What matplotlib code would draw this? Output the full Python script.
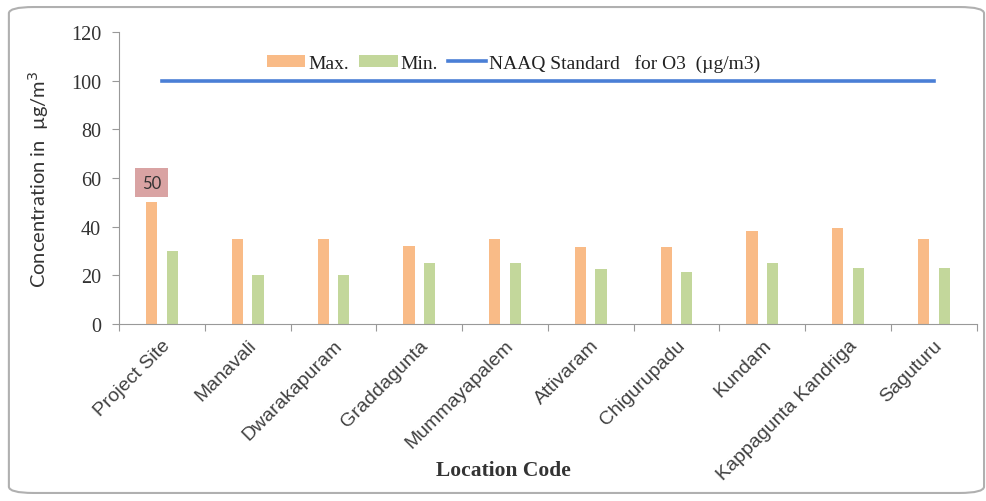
import numpy as np
import matplotlib.pyplot as plt
from matplotlib.patches import FancyBboxPatch

# O3 concentration per monitoring location
locations = ['Project Site', 'Manavali', 'Dwarakapuram', 'Graddagunta', 'Mummayapalem',
             'Attivaram', 'Chigurupadu', 'Kundam', 'Kappagunta Kandriga', 'Saguturu']
max_vals = [50, 35, 35, 32, 35, 31.5, 31.5, 38, 39.5, 35]
min_vals = [30, 20, 20, 25, 25, 22.5, 21.5, 25, 23, 23]
naaq_std = [100] * len(locations)
y_ticks = [0, 20, 40, 60, 80, 100, 120]

ORANGE = '#f9bb87'
GREEN = '#c3d79b'
BLUE = '#4a7fd6'

fig = plt.figure(figsize=(9.87, 5.02), dpi=100)
ax = fig.add_axes([0.1206, 0.3526, 0.869, 0.582])

# rounded frame around the whole chart
frame = FancyBboxPatch((0.009, 0.016), 0.988, 0.968, boxstyle='round,pad=0,rounding_size=0.025',
                       transform=fig.transFigure, fill=False, edgecolor='#b0b0b0', linewidth=1.5,
                       mutation_aspect=502 / 987)
fig.patches.append(frame)

x = np.arange(len(locations))
width = 0.13
offset = 0.12

b_max = ax.bar(x - offset, max_vals, width, color=ORANGE, label='Max.')
b_min = ax.bar(x + offset, min_vals, width, color=GREEN, label='Min.')
l_std, = ax.plot(x, naaq_std, color=BLUE, linewidth=2.6, label='NAAQ Standard   for O3  (µg/m3)')

# highlight the project-site maximum
ax.annotate(f'{max_vals[0]}', xy=(x[0] - offset, max_vals[0]), xytext=(0, 14),
            textcoords='offset points', ha='center', va='center', fontsize=12,
            family='Lato', color='#333333',
            bbox=dict(boxstyle='square,pad=0.4', facecolor='#d9a3a3', edgecolor='none'))

ax.set_xlim(-0.5, len(locations) - 0.5)
ax.set_ylim(0, 120)
ax.set_yticks(y_ticks)
ax.set_yticklabels([str(v) for v in y_ticks], family='Liberation Serif', fontsize=14.5, color='#333333')

ax.set_xticks(np.arange(len(locations) + 1) - 0.5, minor=False)
ax.set_xticklabels([])
ax.set_xticks(x, minor=True)
ax.set_xticklabels(locations, minor=True, rotation=45, ha='right', va='top',
                   rotation_mode='anchor', family='Liberation Sans', fontsize=14, color='#404040')
ax.tick_params(axis='x', which='minor', length=0, pad=9)
ax.tick_params(axis='x', which='major', length=5, color='#999999', direction='out')
ax.tick_params(axis='y', length=5, color='#999999', direction='out', pad=8)

for side in ['top', 'right']:
    ax.spines[side].set_visible(False)
for side in ['left', 'bottom']:
    ax.spines[side].set_color('#999999')

ax.set_ylabel('Concentration in  µg/m$^3$', family='Lato', fontsize=14.5, color='#333333', labelpad=14)
fig.text(0.51, 0.062, 'Location Code', ha='center', va='center', family='Liberation Serif',
         fontsize=15.5, fontweight='bold', color='#333333')

leg = ax.legend([b_max, b_min, l_std], [b_max.get_label(), b_min.get_label(), l_std.get_label()],
                loc='upper center', bbox_to_anchor=(0.46, 0.985), ncol=3, frameon=False,
                prop={'family': 'Liberation Serif', 'size': 14}, handlelength=2.0,
                handleheight=0.55, columnspacing=0.5, handletextpad=0.15)
for t in leg.get_texts():
    t.set_color('#222222')

fig.savefig('out.png', dpi=100)
